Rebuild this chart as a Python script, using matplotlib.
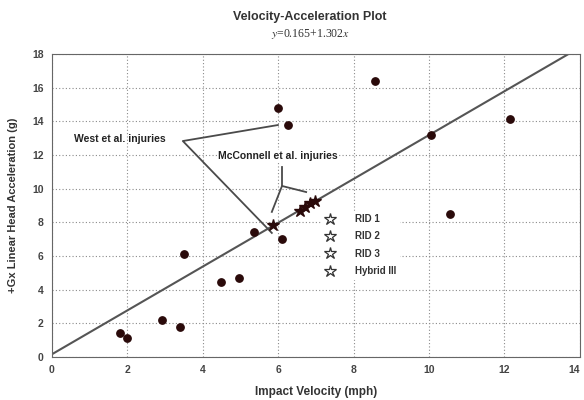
import matplotlib
matplotlib.use("Agg")
import matplotlib.pyplot as plt
from matplotlib.lines import Line2D

plt.rcParams['font.family'] = ['Liberation Sans', 'DejaVu Sans']
plt.rcParams['mathtext.fontset'] = 'stix'

# injury cases (West et al. + others)
vel = [1.80, 2.00, 2.91, 3.39, 3.50, 4.48, 4.96, 5.36, 6.00, 6.27, 6.09,
       8.57, 10.04, 10.55, 12.15]
acc = [1.43, 1.11, 2.20, 1.76, 6.10, 4.44, 4.71, 7.45, 14.78, 13.78, 6.99,
       16.42, 13.19, 8.48, 14.12]

# McConnell et al. cases (filled stars)
mc_vel = [5.87, 6.58, 6.71, 6.84, 6.97]
mc_acc = [7.84, 8.69, 8.93, 9.13, 9.27]

# fit from the subtitle
intercept = 0.165
slope = 1.302
fit_x = [0, 14]

legend_labels = ["RID 1", "RID 2", "RID 3", "Hybrid III"]

dark = "#2a0a0a"
line_col = "#4a4a4a"

fig = plt.figure(figsize=(5.84, 4.0), dpi=100)
ax = fig.add_axes([0.089, 0.1075, 0.904, 0.7575])

ax.plot(fit_x, [intercept + slope * x for x in fit_x], color="#555555", lw=1.5,
        zorder=2)
ax.scatter(vel, acc, s=28, color=dark, zorder=4)
ax.plot(mc_vel, mc_acc, linestyle="none", marker="*", markersize=9,
        color=dark, zorder=4)

# West et al. callout
ax.plot([5.99, 3.47, 5.83], [13.78, 12.83, 7.37], color=line_col, lw=1.3,
        zorder=3)
ax.text(1.8, 12.95, "West et al. injuries", ha="center", va="center",
        fontsize=7.5, fontweight="bold", color="#222222", zorder=5)

# McConnell et al. callout
ax.plot([6.10, 6.10], [11.29, 10.16], color=line_col, lw=1.3, zorder=3)
ax.plot([6.74, 6.10, 5.83], [9.80, 10.16, 8.62], color=line_col, lw=1.3,
        zorder=3)
ax.text(6.0, 11.94, "McConnell et al. injuries", ha="center", va="center",
        fontsize=7.5, fontweight="bold", color="#222222", zorder=5,
        bbox=dict(facecolor="white", edgecolor="none", pad=1))

handles = [Line2D([], [], linestyle="none", marker="*", markersize=9,
                  markerfacecolor="white", markeredgecolor="#333333",
                  markeredgewidth=0.9) for _ in legend_labels]
leg = ax.legend(handles, legend_labels, loc="upper left",
                bbox_to_anchor=(7.0, 8.95), bbox_transform=ax.transData,
                frameon=True, fancybox=False, framealpha=1,
                edgecolor="white", facecolor="white",
                prop={"size": 7, "weight": "bold"},
                handlelength=1.2, handletextpad=2.0, labelspacing=0.75,
                borderpad=0.3)
for t in leg.get_texts():
    t.set_color("#333333")
leg.set_zorder(6)

ax.set_xlim(0, 14)
ax.set_ylim(0, 18)
ax.set_xticks(range(0, 15, 2))
ax.set_yticks(range(0, 19, 2))
ax.grid(True, linestyle=(0, (1, 2)), color="#8a8a8a", lw=0.8)
ax.set_axisbelow(True)
ax.tick_params(length=0, labelsize=7.5, labelcolor="#444444", pad=6)
for lab in ax.get_xticklabels() + ax.get_yticklabels():
    lab.set_fontweight("bold")
ax.get_xticklabels()[-1].set_horizontalalignment("right")
for sp in ax.spines.values():
    sp.set_color("#666666")
    sp.set_linewidth(0.8)

ax.set_xlabel("Impact Velocity (mph)", fontsize=8.5, fontweight="bold",
              color="#333333", labelpad=8)
ax.set_ylabel("+Gx Linear Head Acceleration (g)", fontsize=8,
              fontweight="bold", color="#333333", labelpad=10)

fig.text(0.531, 0.957, "Velocity-Acceleration Plot", ha="center",
         va="center", fontsize=9, fontweight="bold", color="#333333")
fig.text(0.531, 0.915, r"$y$=0.165+1.302$x$", ha="center", va="center",
         fontsize=8.5, family="Liberation Serif", color="#333333")

fig.savefig("out.png", dpi=100)
